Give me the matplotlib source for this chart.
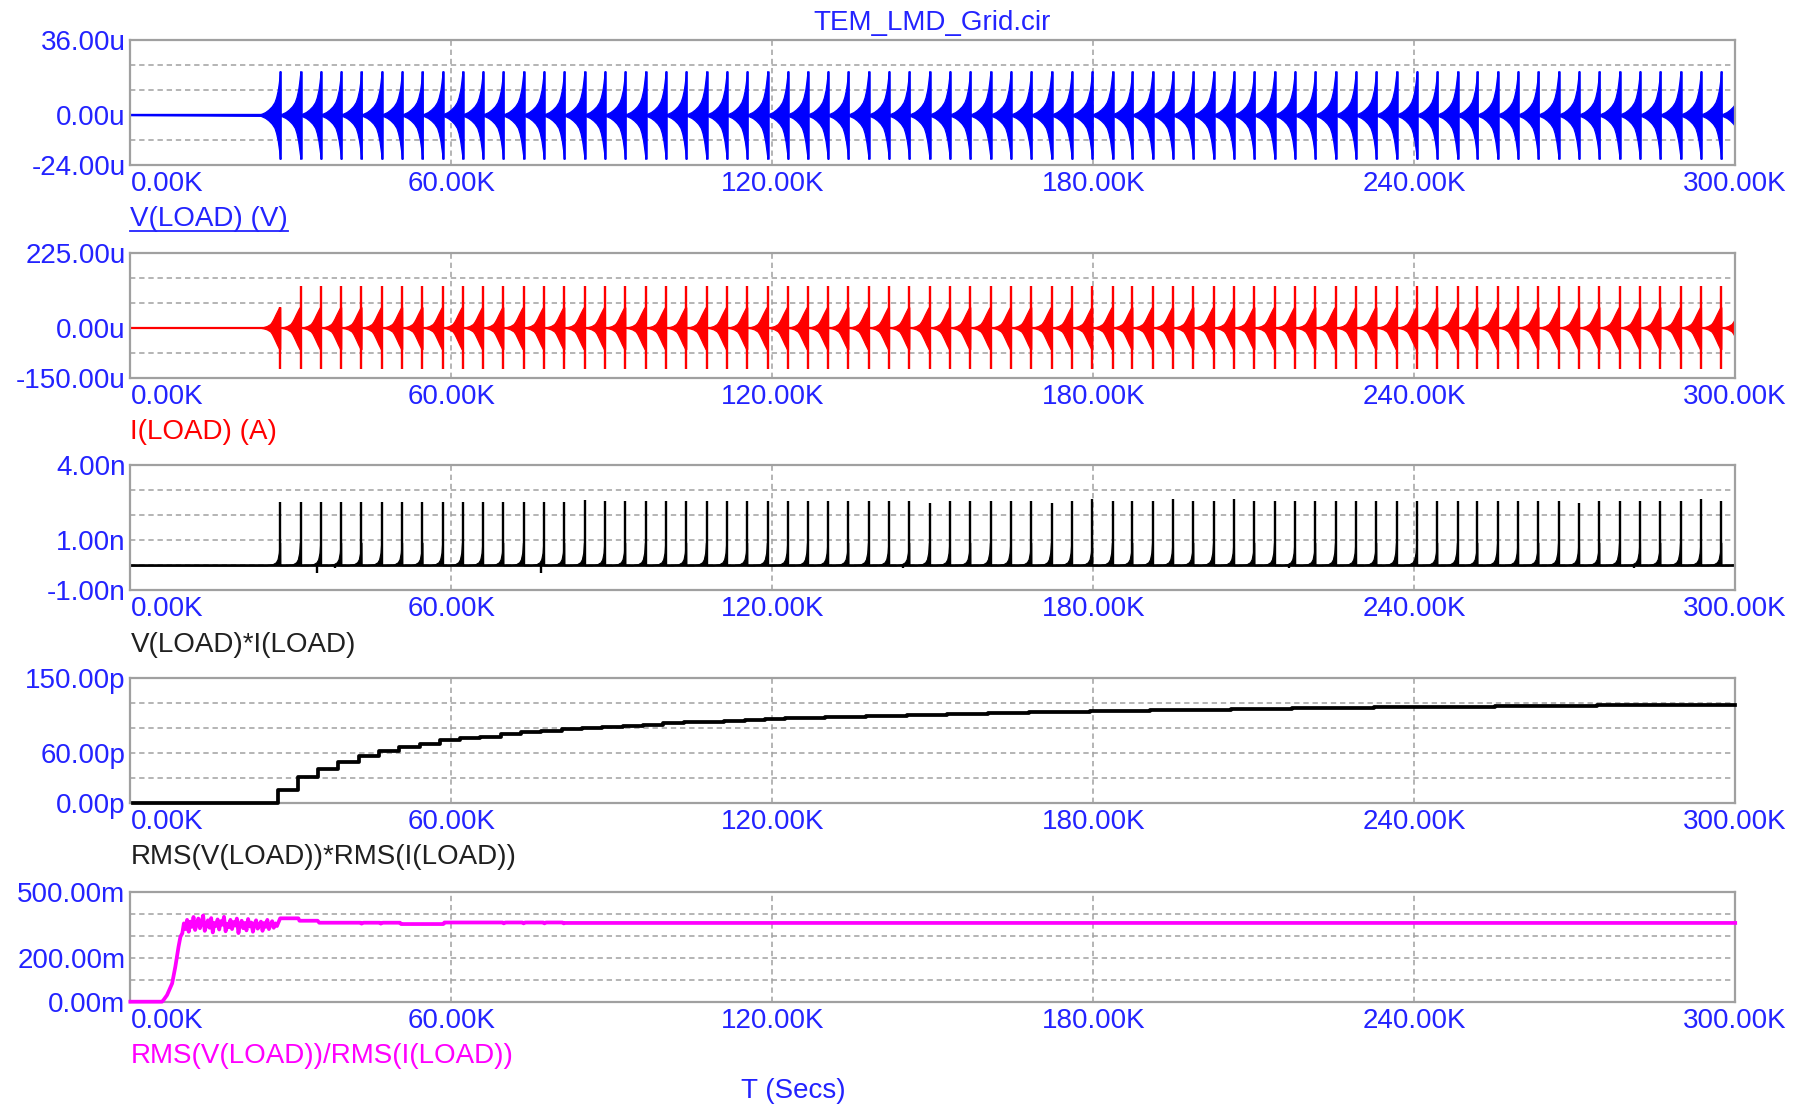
import matplotlib
matplotlib.use('Agg')
import matplotlib.pyplot as plt
import numpy as np
from matplotlib.lines import Line2D

plt.rcParams['font.family'] = ['Liberation Sans', 'DejaVu Sans']

W, H, DPI = 1809, 1105, 100

# ---------------- data ----------------
TITLE = 'TEM_LMD_Grid.cir'
XLABEL = 'T (Secs)'
X_TICKS_K = [0, 60, 120, 180, 240, 300]
X_TICK_LABELS = ['0.00K', '60.00K', '120.00K', '180.00K', '240.00K', '300.00K']

TRACE_NAMES = ['V(LOAD) (V)', 'I(LOAD) (A)', 'V(LOAD)*I(LOAD)',
               'RMS(V(LOAD))*RMS(I(LOAD))', 'RMS(V(LOAD))/RMS(I(LOAD))']

# y axes: gridline values and labels
Y1_TICKS = [-24, -12, 0, 12, 24, 36]
Y1_LABELS = ['-24.00u', '', '0.00u', '', '', '36.00u']
Y2_TICKS = [-150, -75, 0, 75, 150, 225]
Y2_LABELS = ['-150.00u', '', '0.00u', '', '', '225.00u']
Y3_TICKS = [-1, 0, 1, 2, 3, 4]
Y3_LABELS = ['-1.00n', '', '1.00n', '', '', '4.00n']
Y4_TICKS = [0, 30, 60, 90, 120, 150]
Y4_LABELS = ['0.00p', '', '60.00p', '', '', '150.00p']
Y5_TICKS = [0, 100, 200, 300, 400, 500]
Y5_LABELS = ['0.00m', '', '200.00m', '', '', '500.00m']

# burst (spike) times, K
BURST_T = [28.0, 31.8, 35.6, 39.4, 43.2, 47.0, 50.8, 54.6, 58.4, 62.1,
           65.9, 69.7, 73.5, 77.3, 81.1, 84.9, 88.7, 92.5, 96.3, 100.1,
           103.9, 107.7, 111.5, 115.3, 119.1, 122.9, 126.6, 130.4, 134.2, 138.0,
           141.8, 145.6, 149.4, 153.2, 157.0, 160.8, 164.6, 168.4, 172.2, 176.0,
           179.8, 183.6, 187.3, 191.1, 194.9, 198.7, 202.5, 206.3, 210.1, 213.9,
           217.7, 221.5, 225.3, 229.1, 232.9, 236.7, 240.5, 244.3, 248.1, 251.8,
           255.6, 259.4, 263.2, 267.0, 270.8, 274.6, 278.4, 282.2, 286.0, 289.8,
           293.6, 297.4, 301.2]

# V(LOAD) burst envelope (offset from spike in K, amplitude in uV)
V_ENV_DT = [-3.65, -2.8, -2.18, -1.56, -1.06, -0.75, -0.44, -0.25, -0.12, 0.0]
V_ENV_UP = [0.4, 1.4, 2.6, 4.2, 6.2, 8.5, 12.0, 15.5, 18.5, 21.0]
V_ENV_DN = [-0.4, -1.4, -2.6, -4.2, -6.2, -8.7, -12.5, -16.0, -18.5, -21.0]
V_SPIKE = [21.0, -21.2]

# I(LOAD) burst envelope (uA)
I_ENV_DT = [-3.65, -3.1, -2.5, -1.87, -1.56, -1.25, -0.93, -0.62, -0.37, -0.19, 0.0]
I_ENV_UP = [0.4, 2, 5, 11, 18, 27, 38, 48, 56, 61, 61]
I_ENV_DN = [-0.4, -2, -5, -11, -18, -28, -39, -50, -58, -64, -64]
I_SPIKE = [125.0, -124.0]

# V*I burst envelope (nW) and spike heights
P_ENV_DT = [-2.5, -1.43, -0.81, -0.5, -0.25, -0.12, 0.0]
P_ENV = [0.0, 0.04, 0.12, 0.24, 0.5, 0.9, 0.9]
P_SPIKE = [2.52, 2.52, 2.52, 2.52, 2.52, 2.52, 2.52, 2.52, 2.52, 2.52,
           2.52, 2.52, 2.52, 2.52, 2.52, 2.62, 2.56, 2.56, 2.56, 2.56,
           2.56, 2.56, 2.56, 2.56, 2.56, 2.56, 2.56, 2.56, 2.56, 2.56,
           2.56, 2.56, 2.48, 2.56, 2.56, 2.56, 2.56, 2.56, 2.48, 2.56,
           2.64, 2.56, 2.56, 2.56, 2.64, 2.56, 2.56, 2.64, 2.56, 2.56,
           2.56, 2.56, 2.56, 2.56, 2.56, 2.56, 2.56, 2.56, 2.56, 2.56,
           2.56, 2.56, 2.56, 2.56, 2.48, 2.56, 2.56, 2.56, 2.56, 2.56,
           2.64, 2.56, 2.56]
P_DIP_T = [34.9, 38.2, 76.7, 144.5, 216.5, 281.0]
P_DIP = [-0.32, -0.12, -0.32, -0.10, -0.10, -0.10]

# RMS(V)*RMS(I) level after each burst, pW
RMSP_LEVEL = [16, 31, 41, 50, 57, 63, 67, 71, 76, 78,
              80, 83, 85, 87, 89, 90, 92, 93, 94, 96,
              97, 98, 99, 100, 101, 102, 102.5, 103, 104, 104.5,
              105, 106, 106.5, 107, 107.5, 108, 108.5, 109, 109.5, 110,
              110.5, 111, 111, 111.5, 112, 112, 112.5, 113, 113, 113.5,
              114, 114, 114.5, 114.5, 115, 115, 115.5, 115.5, 116, 116,
              116.5, 116.5, 117, 117, 117, 117.5, 117.5, 117.5, 118, 118,
              118, 118.5]

# RMS(V)/RMS(I), mOhm
RATIO_RISE_T = [0.0, 5.9, 6.2, 6.85, 7.8, 8.4, 9.0, 9.35, 9.7]
RATIO_RISE_V = [0, 0, 8, 30, 83, 159, 250, 295, 311]
RATIO_NOISE_V = [356, 330, 372, 318, 364, 340, 385, 326, 352, 378,
                 334, 360, 392, 322, 348, 370, 336, 380, 315, 358,
                 344, 374, 328, 366, 350, 386, 320, 355, 338, 372,
                 330, 362, 346, 378, 312, 352, 368, 334, 358, 324,
                 376, 342, 360, 318, 354, 370, 332, 348, 364, 322,
                 358, 340, 372, 330, 350, 366, 336, 356, 344, 362]
RATIO_TAIL_T = [28.0, 31.4, 31.6, 35.0, 35.3, 43.0, 43.2, 43.6, 46.6, 46.8,
                47.2, 50.4, 50.6, 58.5, 58.7, 69.6, 69.8, 70.1, 73.3, 73.5,
                73.8, 77.2, 77.4, 77.7, 80.8, 81.0, 81.3, 300.0]
RATIO_TAIL_V = [379, 379, 368, 368, 359, 359, 355, 359, 359, 355,
                359, 359, 353, 353, 360, 360, 356, 360, 360, 356,
                360, 360, 356, 360, 360, 356, 358, 358]

# ---------------- style ----------------
BLUE_TXT = '#2323ff'
BLUE = '#0000ff'
RED = '#ff0000'
BLACK = '#000000'
MAGENTA = '#ff00ff'
GRID = '#a0a0a0'
SPINE = '#a0a0a0'
FS = 20

fig = plt.figure(figsize=(W / DPI, H / DPI), dpi=DPI)
L, R = 130.4 / W, 1735.2 / W
PANELS_PX = [(40, 165), (252.7, 377.7), (465, 590.3), (678.3, 803.3), (891.7, 1001.7)]
axes = []
for top, bot in PANELS_PX:
    axes.append(fig.add_axes([L, 1 - bot / H, R - L, (bot - top) / H]))


def style(ax, ticks, labels):
    ax.set_xlim(0, 300)
    ax.set_ylim(ticks[0], ticks[-1])
    ax.set_xticks(X_TICKS_K)
    ax.set_xticklabels(X_TICK_LABELS)
    ax.set_yticks(ticks)
    ax.set_yticklabels(labels)
    ax.tick_params(length=0, labelsize=FS, labelcolor=BLUE_TXT)
    ax.tick_params(axis='x', pad=4.2)
    ax.tick_params(axis='y', pad=3.5)
    ax.get_xticklabels()[0].set_horizontalalignment('left')
    ax.grid(True, color=GRID, linestyle=(0, (3.5, 2.5)), linewidth=1.1)
    ax.set_axisbelow(True)
    for s in ax.spines.values():
        s.set_color(SPINE)
        s.set_linewidth(1.6)


def train(times, dt, up, dn, tail_up, tail_dn):
    xs, us, ds = [0.0], [0.0], [0.0]
    for t in times:
        xs += [t + d for d in dt]
        us += list(up)
        ds += list(dn)
        xs.append(t + 0.02)
        us.append(tail_up)
        ds.append(tail_dn)
    return np.array(xs), np.array(us), np.array(ds)


# Panel 1: V(LOAD)
ax = axes[0]
style(ax, Y1_TICKS, Y1_LABELS)
x, u, d = train(BURST_T, V_ENV_DT, V_ENV_UP, V_ENV_DN, 0.9, -0.9)
ax.plot([0, BURST_T[0] + V_ENV_DT[0]], [0, 0], color=BLUE, lw=1.7)
ax.fill_between(x, d, u, color=BLUE, lw=0.9)
ax.vlines(BURST_T, V_SPIKE[1], V_SPIKE[0], color=BLUE, lw=1.8)

# Panel 2: I(LOAD)
ax = axes[1]
style(ax, Y2_TICKS, Y2_LABELS)
x, u, d = train(BURST_T, I_ENV_DT, I_ENV_UP, I_ENV_DN, 0.6, -0.6)
ax.plot([0, 300], [0, 0], color=RED, lw=1.6)
ax.fill_between(x, d, u, color=RED, lw=0.9)
spike_up = [I_SPIKE[0]] * len(BURST_T)
spike_up[0] = I_ENV_UP[-1]
ax.vlines(BURST_T, I_SPIKE[1], spike_up, color=RED, lw=1.7)

# Panel 3: V*I
ax = axes[2]
style(ax, Y3_TICKS, Y3_LABELS)
x, u, d = train(BURST_T, P_ENV_DT, P_ENV, [0.0] * len(P_ENV), 0.0, 0.0)
ax.plot([0, 300], [0, 0], color=BLACK, lw=1.9)
ax.fill_between(x, d, u, color=BLACK, lw=0.8)
ax.vlines(BURST_T, 0, P_SPIKE, color=BLACK, lw=1.7)
ax.vlines(P_DIP_T, P_DIP, 0, color=BLACK, lw=1.7)

# Panel 4: RMS(V)*RMS(I)
ax = axes[3]
style(ax, Y4_TICKS, Y4_LABELS)
sx = [0.5] + [t - 0.5 for t in BURST_T[:len(RMSP_LEVEL)]] + [300]
sy = [0.0] + RMSP_LEVEL + [RMSP_LEVEL[-1]]
ax.step(sx, sy, where='post', color=BLACK, lw=2.7, clip_on=False, zorder=5)

# Panel 5: RMS(V)/RMS(I)
ax = axes[4]
style(ax, Y5_TICKS, Y5_LABELS)
noise_t = np.linspace(10.0, 27.7, len(RATIO_NOISE_V))
rt = list(RATIO_RISE_T) + list(noise_t) + RATIO_TAIL_T
rv = list(RATIO_RISE_V) + RATIO_NOISE_V + RATIO_TAIL_V
ax.plot(rt, rv, color=MAGENTA, lw=2.7, clip_on=False, zorder=5)

# ---------------- text ----------------
LABEL_Y_PX = [219.5, 431.8, 645.2, 857.5, 1055.9]
LABEL_COLORS = [BLUE_TXT, RED, '#202020', '#202020', MAGENTA]
for name, ypx, c in zip(TRACE_NAMES, LABEL_Y_PX, LABEL_COLORS):
    t = fig.text(L, 1 - ypx / H, name, color=c, fontsize=FS, ha='left', va='center')
    if name == TRACE_NAMES[0]:
        vlabel = t

fig.text(932.2 / W, 1 - 23.0 / H, TITLE, color=BLUE_TXT, fontsize=FS, ha='center', va='center')
fig.text(793.7 / W, 1 - 1090.5 / H, XLABEL, color=BLUE_TXT, fontsize=FS, ha='center', va='center')

# underline the first trace label
fig.canvas.draw()
bb = vlabel.get_window_extent()
yline = (1 - 230.5 / H)
fig.add_artist(Line2D([bb.x0 / W, bb.x1 / W], [yline, yline], color=BLUE_TXT, lw=1.3,
                      transform=fig.transFigure))

fig.savefig('out.png', dpi=DPI)
